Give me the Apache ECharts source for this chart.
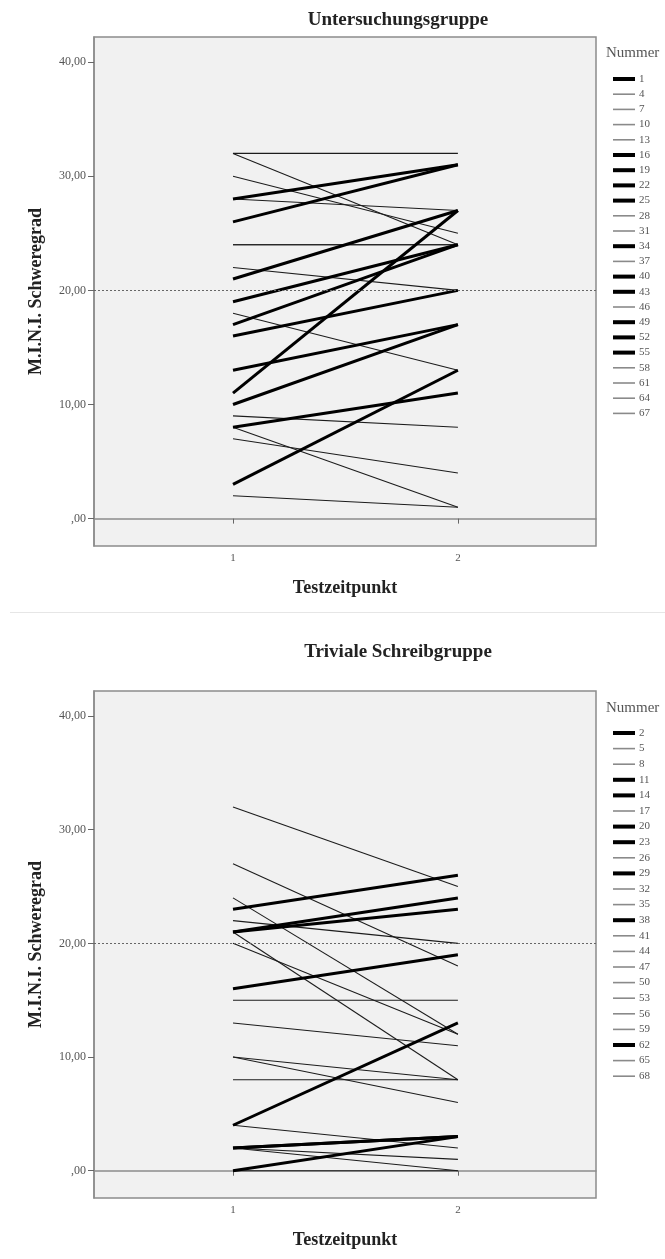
<!DOCTYPE html>
<html>
<head>
<meta charset="utf-8">
<script src="https://cdn.jsdelivr.net/npm/echarts@6/dist/echarts.min.js"></script>
<style>
  html, body { margin: 0; padding: 0; background: #ffffff; }
  #chart { width: 665px; height: 1259px; }
</style>
</head>
<body>
<div id="chart"></div>
<script>
// ---- Data: M.I.N.I. Schweregrad at Testzeitpunkt 1 and 2 ----
const timepoints = [1, 2];
const yTicks = [0, 10, 20, 30, 40];

// Untersuchungsgruppe
const nummerA = [1, 4, 7, 10, 13, 16, 19, 22, 25, 28, 31, 34, 37, 40, 43, 46, 49, 52, 55, 58, 61, 64, 67];
const t1A     = [28, 32, 32, 30, 28, 26, 21, 19, 17, 24, 22, 16, 18, 13, 11, 9, 10, 8, 3, 8, 7, 2, 24];
const t2A     = [31, 32, 24, 25, 27, 31, 27, 24, 24, 24, 20, 20, 13, 17, 27, 8, 17, 11, 13, 1, 4, 1, 24];

// Triviale Schreibgruppe
const nummerB = [2, 5, 8, 11, 14, 17, 20, 23, 26, 29, 32, 35, 38, 41, 44, 47, 50, 53, 56, 59, 62, 65, 68];
const t1B     = [23, 32, 27, 21, 21, 24, 16, 4, 22, 2, 21, 20, 2, 15, 13, 10, 10, 8, 4, 2, 0, 2, 0];
const t2B     = [26, 25, 18, 24, 23, 12, 19, 13, 20, 3, 8, 12, 3, 15, 11, 8, 6, 8, 2, 1, 3, 0, 0];

const refValue = 20;

// ---- Styling ----
const FONT = 'Liberation Serif';
const AXIS_GRAY = '#8c8c8c';
const X_MIN = 0.382, X_MAX = 2.614;
const Y_MIN = -2.4, Y_MAX = 42.2;

// legend icons: a bar inside a fixed 22x8 box (the extra moveTo points fix the box)
const ICON_THICK = 'path://M0,0M22,8M0,2L22,2L22,6L0,6Z';
const ICON_THIN  = 'path://M0,0M22,8M0,3.2L22,3.2L22,4.8L0,4.8Z';

function fmtTick(v) {
  if (v === 0) return ',00';
  return v.toFixed(2).replace('.', ',');
}

function panelAxes(idx, gridTop, gridHeight) {
  return {
    grid: {
      left: 94, top: gridTop, width: 502, height: gridHeight,
      show: true, backgroundColor: '#f1f1f1',
      borderColor: AXIS_GRAY, borderWidth: 1.5
    },
    xAxis: {
      type: 'value', gridIndex: idx, min: X_MIN, max: X_MAX,
      name: 'Testzeitpunkt', nameLocation: 'middle', nameGap: 33,
      nameTextStyle: { fontFamily: FONT, fontWeight: 'bold', fontSize: 18, color: '#222' },
      axisLine: { show: true, lineStyle: { color: AXIS_GRAY, width: 1.5 } },
      axisTick: { show: true, length: 5, customValues: timepoints, lineStyle: { color: '#666' } },
      axisLabel: { customValues: timepoints, fontFamily: FONT, fontSize: 11, color: '#555', margin: 7,
                   formatter: v => String(v) },
      splitLine: { show: false }
    },
    yAxis: {
      type: 'value', gridIndex: idx, min: Y_MIN, max: Y_MAX,
      name: 'M.I.N.I. Schweregrad', nameLocation: 'middle', nameRotate: 90, nameGap: 49,
      nameTextStyle: { fontFamily: FONT, fontWeight: 'bold', fontSize: 18, color: '#222' },
      axisLine: { show: true, lineStyle: { color: AXIS_GRAY, width: 1.5 } },
      axisTick: { show: true, length: 6, customValues: yTicks, lineStyle: { color: '#666' } },
      axisLabel: { customValues: yTicks, fontFamily: FONT, fontSize: 12, color: '#555', margin: 8,
                   formatter: v => fmtTick(v) },
      splitLine: { show: false }
    }
  };
}

function buildSeries(nummer, t1, t2, idx) {
  const out = [];
  nummer.forEach((n, i) => {
    const up = t2[i] > t1[i];
    out.push({
      name: String(n), type: 'line', xAxisIndex: idx, yAxisIndex: idx,
      data: [[timepoints[0], t1[i]], [timepoints[1], t2[i]]],
      symbol: 'none', silent: true, animation: false,
      itemStyle: { color: '#000' },
      lineStyle: { color: up ? '#000' : '#1c1c1c', width: up ? 3 : 1.1 },
      emphasis: { disabled: true }, z: up ? 3 : 2
    });
  });
  // dotted reference line
  out.push({
    name: 'ref' + idx, type: 'line', xAxisIndex: idx, yAxisIndex: idx, data: [],
    silent: true, animation: false,
    markLine: {
      silent: true, symbol: 'none', label: { show: false },
      lineStyle: { color: '#666', type: [2, 2], width: 1 },
      data: [{ yAxis: refValue }]
    }
  });
  return out;
}

function buildLegend(nummer, t1, t2, top, gap) {
  return {
    orient: 'vertical', left: 608, top: top,
    itemWidth: 22, itemHeight: 8, itemGap: gap,
    selectedMode: false,
    textStyle: { fontFamily: FONT, fontSize: 11, lineHeight: 12, color: '#555', padding: [0, 0, 0, -1] },
    data: nummer.map((n, i) => {
      const up = t2[i] > t1[i];
      return {
        name: String(n),
        icon: up ? ICON_THICK : ICON_THIN,
        itemStyle: { color: up ? '#000' : '#8a8a8a' }
      };
    })
  };
}

const A = panelAxes(0, 37, 509);
const B = panelAxes(1, 691, 507);

const titleStyle = { fontFamily: FONT, fontWeight: 'bold', fontSize: 19, fill: '#222',
                     align: 'center', verticalAlign: 'middle' };
const nummerStyle = { fontFamily: FONT, fontSize: 15, fill: '#555', verticalAlign: 'middle' };

const chart = echarts.init(document.getElementById('chart'), null, { renderer: 'canvas' });
chart.setOption({
  animation: false,
  backgroundColor: '#ffffff',
  grid: [A.grid, B.grid],
  xAxis: [A.xAxis, B.xAxis],
  yAxis: [A.yAxis, B.yAxis],
  legend: [buildLegend(nummerA, t1A, t2A, 68, 3.2), buildLegend(nummerB, t1B, t2B, 722, 3.6)],
  series: buildSeries(nummerA, t1A, t2A, 0).concat(buildSeries(nummerB, t1B, t2B, 1)),
  graphic: [
    { type: 'text', style: Object.assign({ text: 'Untersuchungsgruppe', x: 398, y: 20 }, titleStyle) },
    { type: 'text', style: Object.assign({ text: 'Triviale Schreibgruppe', x: 398, y: 652 }, titleStyle) },
    { type: 'text', style: Object.assign({ text: 'Nummer', x: 606, y: 53 }, nummerStyle) },
    { type: 'text', style: Object.assign({ text: 'Nummer', x: 606, y: 708 }, nummerStyle) },
    { type: 'rect', shape: { x: 10, y: 612, width: 655, height: 1 }, style: { fill: '#e6e6e6' } }
  ]
});
</script>
</body>
</html>
